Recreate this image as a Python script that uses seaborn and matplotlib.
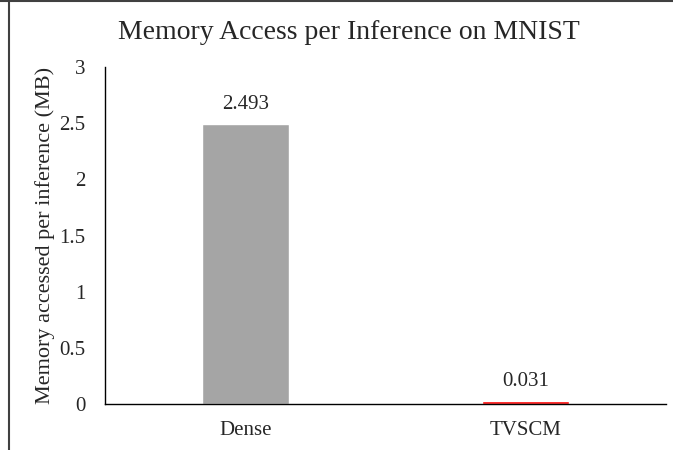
import matplotlib
matplotlib.use("Agg")
import matplotlib.pyplot as plt
from matplotlib.lines import Line2D
import seaborn as sns
import pandas as pd

# Data
modelos = ["Dense", "TVSCM"]
memoria_mb = [2.493, 0.031]
cores = ["#A5A5A5", "#FF0000"]

sns.set_style("white")
plt.rcParams['font.family'] = ['Liberation Serif', 'DejaVu Serif']

dados = pd.DataFrame({'modelo': modelos, 'memoria': memoria_mb})

fig = plt.figure(figsize=(6.73, 4.5), dpi=100)
ax = fig.add_axes([0.156, 0.102, 0.834, 0.749])

sns.barplot(data=dados, x='modelo', y='memoria', hue='modelo',
            palette=cores, width=0.31, ax=ax, legend=False, saturation=1)

# rótulos dos valores acima das barras
for container, valor in zip(ax.containers, memoria_mb):
    ax.bar_label(container, labels=[f"{valor:.3f}"], padding=7, fontsize=15)

ax.set_ylim(0, 3)
ax.set_yticks([0, 0.5, 1, 1.5, 2, 2.5, 3])
ax.set_yticklabels(['0', '0.5', '1', '1.5', '2', '2.5', '3'])
ax.tick_params(axis='both', labelsize=15, length=0)
ax.tick_params(axis='x', pad=12)
ax.tick_params(axis='y', pad=14)
ax.set_xlabel('')
ax.set_ylabel('Memory accessed per inference (MB)', fontsize=16, labelpad=3)

# título centrado na figura
fig.text(0.519, 0.927, 'Memory Access per Inference on MNIST',
         fontsize=20, ha='center', va='center')

for lado in ['top', 'right']:
    ax.spines[lado].set_visible(False)
for lado in ['left', 'bottom']:
    ax.spines[lado].set_color('black')
    ax.spines[lado].set_linewidth(1.0)

# moldura da figura (topo e esquerda)
fig.add_artist(Line2D([0, 1], [0.997, 0.997], transform=fig.transFigure, color='#404040', lw=1.5))
fig.add_artist(Line2D([0.013, 0.013], [0, 1], transform=fig.transFigure, color='#404040', lw=1.5))

fig.savefig('out.png', dpi=100)
